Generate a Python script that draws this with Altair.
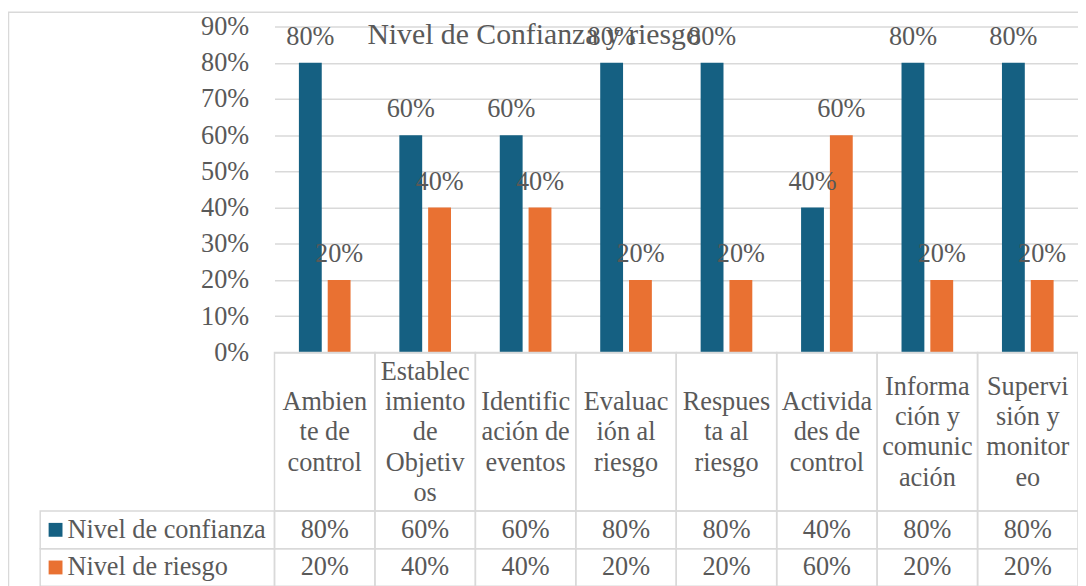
import altair as alt
import pandas as pd

FONT = "Liberation Serif"
FS = 26.5
TEXT_COLOR = "#595959"
LINE_COLOR = "#D9D9D9"

title_text = "Nivel de Confianza y riesgo"
categories = ["Ambiente de control", "Establecimiento de Objetivos", "Identificación de eventos",
              "Evaluación al riesgo", "Respuesta al riesgo", "Actividades de control",
              "Información y comunicación", "Supervisión y monitoreo"]
cat_labels = ["Ambien\nte de\ncontrol", "Establec\nimiento\nde\nObjetiv\nos", "Identific\nación de\neventos",
              "Evaluac\nión al\nriesgo", "Respues\nta al\nriesgo", "Activida\ndes de\ncontrol",
              "Informa\nción y\ncomunic\nación", "Supervi\nsión y\nmonitor\neo"]
series = ["Nivel de confianza", "Nivel de riesgo"]
confianza = [0.8, 0.6, 0.6, 0.8, 0.8, 0.4, 0.8, 0.8]
riesgo = [0.2, 0.4, 0.4, 0.2, 0.2, 0.6, 0.2, 0.2]
y_ticks = [0.0, 0.1, 0.2, 0.3, 0.4, 0.5, 0.6, 0.7, 0.8, 0.9]
colors = ["#156082", "#E97132"]

rows = []
for s, vals in zip(series, [confianza, riesgo]):
    for c, v in zip(categories, vals):
        rows.append({"cat": c, "series": s, "value": v, "label": f"{round(v * 100)}%"})
df = pd.DataFrame(rows)
df_cats = pd.DataFrame({"cat": categories, "cat_label": cat_labels,
                        "n_lines": [lbl.count("\n") + 1 for lbl in cat_labels]})
df_series = pd.DataFrame({"series": series, "color": colors})
df_title = pd.DataFrame({"t": [title_text]})

X = alt.X("cat:N", sort=categories, scale=alt.Scale(paddingInner=0, paddingOuter=0), axis=None)
XO = alt.XOffset("series:N", sort=series, scale=alt.Scale(paddingInner=0.2069, paddingOuter=0.8466))
Y = alt.Y("value:Q", scale=alt.Scale(domain=[0, 0.9], nice=False, zero=True),
          axis=alt.Axis(values=y_ticks, format=".0%", grid=True, gridColor=LINE_COLOR, gridWidth=1.5,
                        domain=False, ticks=False, labelFont=FONT, labelFontSize=FS, labelOverlap=False,
                        labelColor=TEXT_COLOR, labelPadding=26, title=None))
C = alt.Color("series:N", scale=alt.Scale(domain=series, range=colors), legend=None)

layers = []

# outer chart border
border = alt.Chart(df_title).mark_rect(fill=None, stroke=LINE_COLOR, strokeWidth=1.5).encode(
    x=alt.value(-268.5), x2=alt.value(900), y=alt.value(-14.5), y2=alt.value(700))
layers.append(border)

bars = alt.Chart(df).mark_bar().encode(x=X, xOffset=XO, y=Y, color=C)
layers.append(bars)

bar_labels = alt.Chart(df).mark_text(dy=-18, baseline="alphabetic", font=FONT, fontSize=FS,
                                     color=TEXT_COLOR).encode(
    x=X, xOffset=XO, y=Y, text="label:N")
layers.append(bar_labels)

title = alt.Chart(df_title).mark_text(font=FONT, fontSize=30, color=TEXT_COLOR, baseline="alphabetic",
                                      align="center").encode(
    x=alt.value(262), y=alt.value(18), text="t:N")
layers.append(title)

# data table cells (category row + two data rows)
row_bounds = [(329, 489), (489, 527), (527, 565)]
for y0, y1 in row_bounds:
    layers.append(alt.Chart(df_cats).mark_rect(fill=None, stroke=LINE_COLOR, strokeWidth=1.5).encode(
        x=X, y=alt.value(y0), y2=alt.value(y1)))
for y0, y1 in row_bounds[1:]:
    layers.append(alt.Chart(df_title).mark_rect(fill=None, stroke=LINE_COLOR, strokeWidth=1.5).encode(
        x=alt.value(-236.5), x2=alt.value(0), y=alt.value(y0), y2=alt.value(y1)))

# category labels, vertically centred in the cell
LH = 30.6
CENTER = 409.6
for n in sorted(set(df_cats["n_lines"])):
    layers.append(alt.Chart(df_cats).transform_filter(alt.datum.n_lines == n).mark_text(
        lineBreak="\n", baseline="middle", lineHeight=LH, font=FONT,
        fontSize=FS, color=TEXT_COLOR).encode(
        x=X, y=alt.value(CENTER - (n - 1) / 2 * LH), text="cat_label:N"))

row_baselines = [516, 554]
row_centers = [508, 546]
for s, yb, yc in zip(series, row_baselines, row_centers):
    layers.append(alt.Chart(df).transform_filter(alt.datum.series == s).mark_text(
        baseline="alphabetic", font=FONT, fontSize=FS, color=TEXT_COLOR).encode(
        x=X, y=alt.value(yb), text="label:N"))
    layers.append(alt.Chart(df_series).transform_filter(alt.datum.series == s).mark_square(
        size=196, opacity=1).encode(
        x=alt.value(-221), y=alt.value(yc),
        color=alt.Color("series:N", scale=alt.Scale(domain=series, range=colors), legend=None)))
    layers.append(alt.Chart(df_series).transform_filter(alt.datum.series == s).mark_text(
        align="left", baseline="alphabetic", font=FONT, fontSize=FS, color=TEXT_COLOR).encode(
        x=alt.value(-209), y=alt.value(yb), text="series:N"))

chart = alt.layer(*layers).properties(
    width=811, height=329,
    autosize=alt.AutoSizeParams(type="none"),
    padding={"left": 269, "top": 16, "right": 0, "bottom": 233},
).configure_view(stroke=None)

chart.save("out.html", embed_options={"renderer": "svg", "actions": False})
